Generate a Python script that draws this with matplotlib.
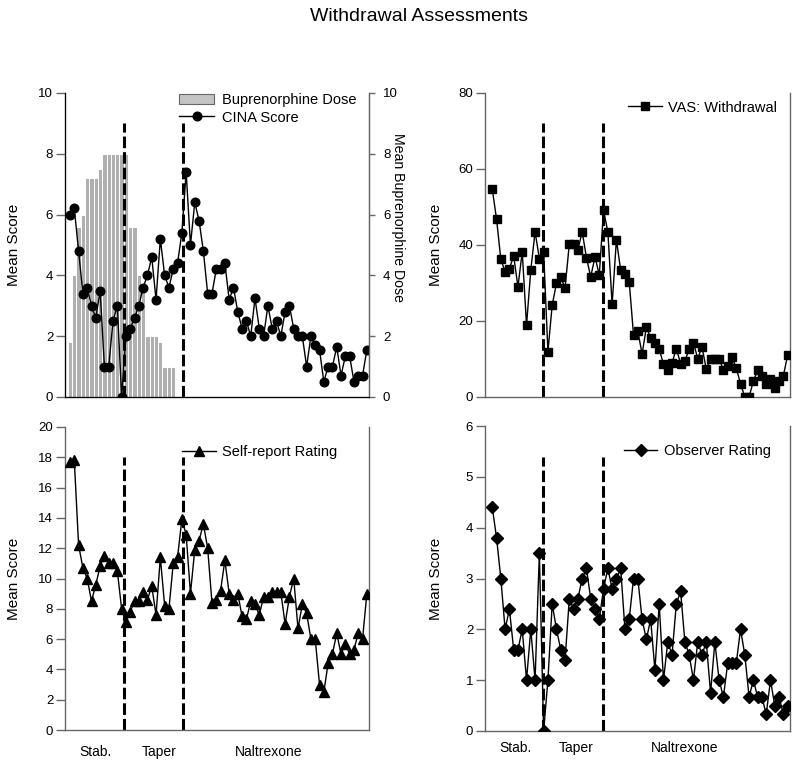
import matplotlib
matplotlib.use('Agg')
import matplotlib.pyplot as plt
import matplotlib.transforms as mtransforms
from matplotlib.patches import Patch
import numpy as np

plt.rcParams['font.family'] = ['Liberation Sans', 'DejaVu Sans']

# study days (one value per day for every measure)
days = np.arange(1, 71)
dose_days = np.arange(1, 26)

bup_dose = [1.8, 4.0, 5.6, 6.0, 7.2, 7.2, 7.2, 7.5, 8.0, 8.0, 8.0, 8.0, 8.0, 8.0,
            5.6, 5.6, 4.0, 3.6, 2.0, 2.0, 2.0, 1.8, 1.0, 1.0, 1.0]

cina = [6.0, 6.2, 4.8, 3.4, 3.6, 3.0, 2.6, 3.5, 1.0, 1.0, 2.5, 3.0, 0.0, 2.0,
        2.25, 2.6, 3.0, 3.6, 4.0, 4.6, 3.2, 5.2, 4.0, 3.6, 4.2, 4.4, 5.4, 7.4,
        5.0, 6.4, 5.8, 4.8, 3.4, 3.4, 4.2, 4.2, 4.4, 3.2, 3.6, 2.8, 2.25, 2.5,
        2.0, 3.25, 2.25, 2.0, 3.0, 2.25, 2.5, 2.0, 2.8, 3.0, 2.25, 2.0, 2.0, 1.0,
        2.0, 1.7, 1.55, 0.5, 1.0, 1.0, 1.65, 0.7, 1.35, 1.35, 0.5, 0.7, 0.7, 1.55]

vas = [54.7, 46.8, 36.2, 33.0, 33.8, 37.1, 29.0, 38.2, 18.9, 33.4, 43.5, 36.4,
       38.1, 11.9, 24.2, 29.9, 31.6, 28.6, 40.3, 40.3, 38.7, 43.5, 36.7, 31.6,
       36.9, 32.1, 49.1, 43.5, 24.4, 41.3, 33.4, 32.4, 30.3, 16.3, 17.4, 11.3,
       18.3, 15.6, 14.3, 12.7, 8.6, 7.0, 9.0, 12.7, 8.8, 9.5, 12.5, 14.3, 10.1,
       13.2, 7.3, 10.1, 10.1, 10.1, 7.0, 8.1, 10.5, 7.6, 3.5, 0.0, 0.0, 4.2, 7.0,
       5.5, 3.3, 4.6, 2.4, 4.2, 5.5, 11.0]

self_report = [17.7, 17.8, 12.2, 10.7, 10.0, 8.5, 9.6, 10.8, 11.5, 11.0, 11.0,
               10.5, 8.0, 7.1, 7.8, 8.5, 8.5, 9.1, 8.6, 9.5, 7.6, 11.4, 8.2, 8.0,
               11.0, 11.4, 13.9, 12.9, 9.0, 11.9, 12.5, 13.6, 12.0, 8.4, 8.6, 9.2,
               11.2, 9.0, 8.6, 9.0, 7.5, 7.3, 8.5, 8.3, 7.6, 8.8, 8.8, 9.1, 9.1,
               9.1, 7.0, 8.8, 10.0, 6.7, 8.3, 7.7, 6.0, 6.0, 3.0, 2.5, 4.4, 5.0,
               6.4, 5.0, 5.7, 5.0, 5.3, 6.4, 6.0, 9.0]

observer = [4.4, 3.8, 3.0, 2.0, 2.4, 1.6, 1.6, 2.0, 1.0, 2.0, 1.0, 3.5, 0.0, 1.0,
            2.5, 2.0, 1.6, 1.4, 2.6, 2.4, 2.6, 3.0, 3.2, 2.6, 2.4, 2.2, 2.8, 3.2,
            2.8, 3.0, 3.2, 2.0, 2.2, 3.0, 3.0, 2.2, 1.8, 2.2, 1.2, 2.5, 1.0, 1.75,
            1.5, 2.5, 2.75, 1.75, 1.5, 1.0, 1.75, 1.5, 1.75, 0.75, 1.75, 1.0, 0.67,
            1.33, 1.33, 1.33, 2.0, 1.5, 0.67, 1.0, 0.67, 0.67, 0.33, 1.0, 0.5,
            0.67, 0.33, 0.5]

phase_names = ['Stab.', 'Taper', 'Naltrexone']

SPINE = '#666666'

fig = plt.figure(figsize=(8, 7.64), dpi=100)
fig.text(0.524, 0.979, 'Withdrawal Assessments', ha='center', va='center', fontsize=14)

ax_tl = fig.add_axes([0.08125, 0.4804, 0.38, 0.3979])
ax_tr = fig.add_axes([0.60625, 0.4804, 0.38125, 0.3979])
ax_bl = fig.add_axes([0.08125, 0.0445, 0.38, 0.3966])
ax_br = fig.add_axes([0.60625, 0.0432, 0.38125, 0.3992])


def setup(ax, ymax, step, xlim, phase_x, label_x):
    ax.set_xlim(*xlim)
    ax.set_ylim(0, ymax)
    ax.set_yticks(np.arange(0, ymax + step / 2, step))
    ax.set_xticks([])
    ax.spines['top'].set_visible(False)
    for s in ['left', 'right', 'bottom']:
        ax.spines[s].set_color(SPINE)
        ax.spines[s].set_linewidth(1.0)
    ax.tick_params(axis='y', direction='out', length=6.5, width=1, color=SPINE,
                   pad=2, labelsize=9.5)
    ax.set_ylabel('Mean Score', fontsize=11)
    ax.yaxis.set_label_coords(label_x, 0.5)
    for x in phase_x:
        ax.axvline(x, ymin=0, ymax=0.9, color='black', lw=2.2,
                   linestyle=(0, (3.8, 1.3)), zorder=2)


def add_legend(ax, x_anchor, y_anchor):
    ax.legend(loc='upper left', bbox_to_anchor=(x_anchor, y_anchor), frameon=False,
              fontsize=10.5, handlelength=2.3, handletextpad=0.45,
              borderpad=0, borderaxespad=0, numpoints=1)


left_xlim = (-0.16, 70.5)
right_xlim = (-0.7, 70.56)

setup(ax_tl, 10, 2, left_xlim, [13.56, 27.35], -0.145)
setup(ax_tr, 80, 20, right_xlim, [12.9, 26.8], -0.137)
setup(ax_bl, 20, 2, left_xlim, [13.56, 27.35], -0.145)
setup(ax_br, 6, 1, right_xlim, [12.9, 26.8], -0.137)

# top left: buprenorphine dose bars + CINA
ax_tl.bar(dose_days, bup_dose, width=1.0, color='#b0b0b0', edgecolor='white',
          linewidth=0.7, zorder=1)
cina_line, = ax_tl.plot(days, cina, color='black', lw=1, marker='o', ms=6.2,
                        zorder=3)
dose_patch = Patch(facecolor='#c4c4c4', edgecolor='#666666', linewidth=0.8)
ax_tl.legend([dose_patch, cina_line], ['Buprenorphine Dose', 'CINA Score'],
             loc='upper left', bbox_to_anchor=(0.375, 1.0), frameon=False,
             fontsize=10.5, handlelength=2.4, handletextpad=0.55, labelspacing=0.25,
             borderpad=0, borderaxespad=0, numpoints=1, handleheight=0.75)
ax_r = ax_tl.twinx()
ax_r.set_ylim(0, 10)
ax_r.set_yticks(np.arange(0, 11, 2))
ax_r.spines['top'].set_visible(False)
ax_r.spines['right'].set_color(SPINE)
ax_r.tick_params(axis='y', direction='out', length=4, width=1, color=SPINE,
                 pad=6, labelsize=9.5)
ax_r.set_ylabel('Mean Buprenorphine Dose', fontsize=10.2, rotation=270)
ax_r.yaxis.set_label_coords(1.118, 0.59)

# top right: VAS
ax_tr.plot(days, vas, color='black', lw=1, marker='s', ms=5.8, zorder=3,
           label='VAS: Withdrawal')
add_legend(ax_tr, 0.469, 0.975)

# bottom left: self-report
ax_bl.plot(days, self_report, color='black', lw=1, marker='^', ms=6.8, zorder=3,
           label='Self-report Rating')
add_legend(ax_bl, 0.385, 0.94)

# bottom right: observer
ax_br.plot(days, observer, color='black', lw=1, marker='D', ms=5.8, zorder=3,
           label='Observer Rating')
add_legend(ax_br, 0.455, 0.94)

# phase labels under the bottom panels
for ax, xs, yoff in [(ax_bl, [6.93, 21.7, 47.1], -0.073),
                     (ax_br, [6.5, 20.6, 46.0], -0.056)]:
    trans = mtransforms.blended_transform_factory(ax.transData, ax.transAxes)
    for name, x in zip(phase_names, xs):
        ax.text(x, yoff, name, transform=trans, ha='center', va='center', fontsize=10)

fig.savefig('out.png', dpi=100)
